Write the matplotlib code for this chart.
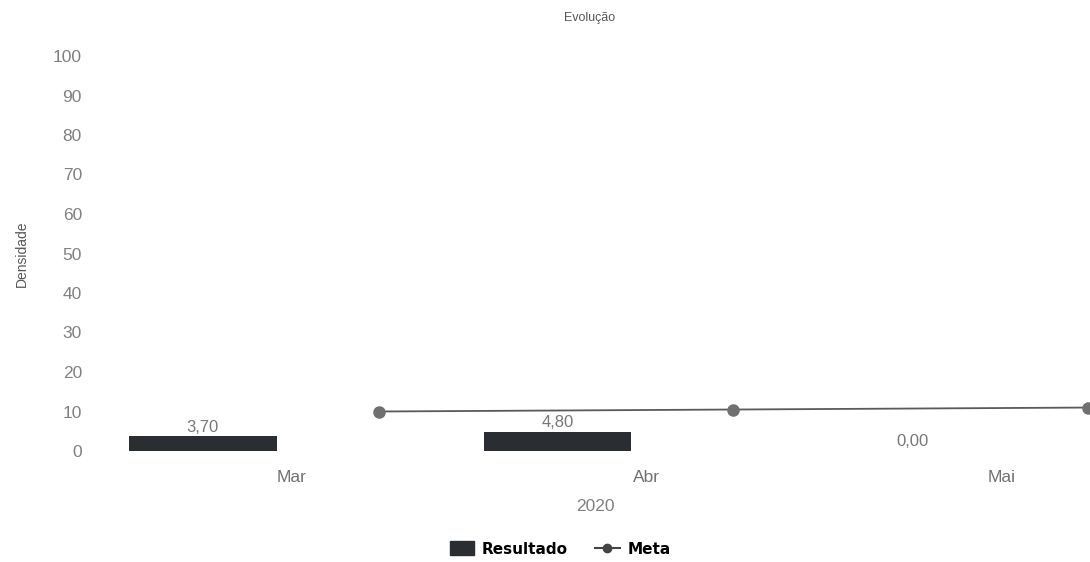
import matplotlib
matplotlib.use("Agg")
import matplotlib.pyplot as plt
from matplotlib.lines import Line2D
from matplotlib.patches import Patch

plt.rcParams["font.family"] = ["Liberation Sans", "DejaVu Sans"]

months = ["Mar", "Abr", "Mai"]
year_label = "2020"
resultado = [3.70, 4.80, 0.00]
meta = [10.0, 10.5, 11.0]
yticks = [0, 10, 20, 30, 40, 50, 60, 70, 80, 90, 100]

fig = plt.figure(figsize=(10.9, 5.62), dpi=100)
ax = fig.add_axes([100/1090, 1 - 451/562, 990/1090, (451 - 56)/562])

x = list(range(len(months)))
bar_x = [i - 0.25 for i in x]
meta_x = [i + 0.245 for i in x]

ax.bar(bar_x, resultado, width=0.415, color="#2a2d31", zorder=2)
ax.plot(meta_x, meta, color="#5a5a5a", lw=1.3, marker="o", ms=8,
        markerfacecolor="#707070", markeredgecolor="#707070", zorder=3, clip_on=False)

for bx, v in zip(bar_x, resultado):
    ax.text(bx, v + 0.4, f"{v:.2f}".replace(".", ","), ha="center", va="bottom",
            fontsize=12, color="#777777")

ax.set_xlim(-0.54, 2.25)
ax.set_ylim(0, 100)
ax.set_yticks(yticks)
ax.set_yticklabels([str(t) for t in yticks], fontsize=12.5, color="#808080")
ax.set_xticks(x)
ax.set_xticklabels(months, fontsize=12.5, color="#707070")
ax.tick_params(axis="both", length=0)
ax.tick_params(axis="y", pad=13)
ax.tick_params(axis="x", pad=14)
for s in ax.spines.values():
    s.set_visible(False)

ax.set_xlabel(year_label, fontsize=12.5, color="#808080", labelpad=10)
ax.set_ylabel("Densidade", fontsize=10, color="#555555", labelpad=17)
fig.text(590/1090, 1 - 18/562, "Evolução", ha="center", va="center",
         fontsize=9, color="#555555")

handles = [Patch(facecolor="#2a2d31", edgecolor="#2a2d31", label="Resultado"),
           Line2D([0], [0], color="#444444", lw=1.5, marker="o", ms=6,
                  markerfacecolor="#444444", label="Meta")]
fig.legend(handles=handles, loc="center", bbox_to_anchor=(560/1090, 1 - 549/562),
           ncol=2, frameon=False, prop={"family": "DejaVu Sans", "weight": "bold", "size": 11},
           handlelength=1.6, handleheight=1.0, columnspacing=1.8, handletextpad=0.5)

fig.savefig("out.png", dpi=100, facecolor="white")
